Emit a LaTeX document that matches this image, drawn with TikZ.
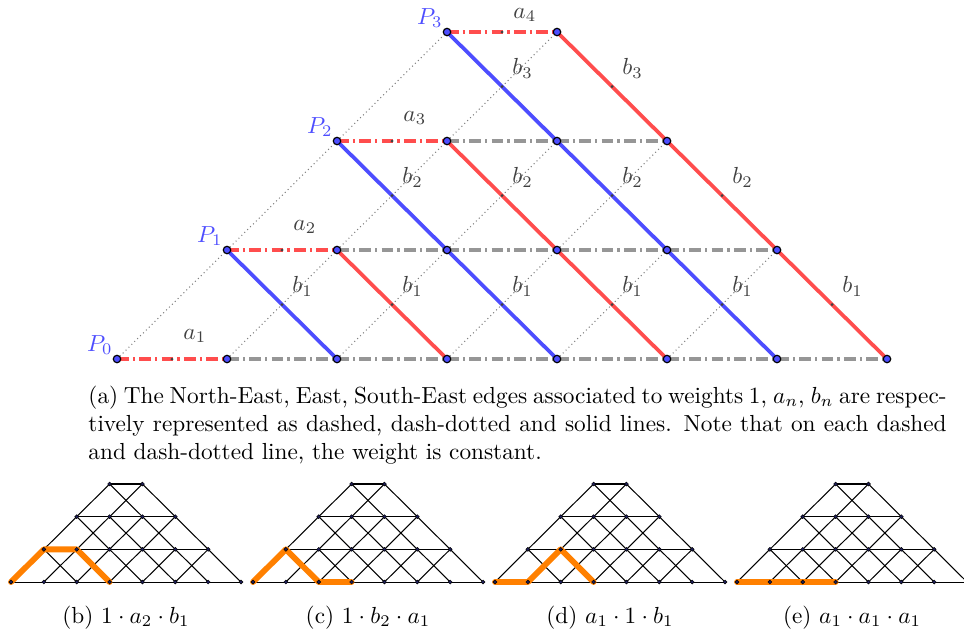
\documentclass[tikz,border=0pt]{standalone}
\usetikzlibrary{calc}
\definecolor{myred}{RGB}{255,77,77}
\definecolor{myblue}{RGB}{77,77,255}
\definecolor{mygrey}{RGB}{150,150,150}
\definecolor{labgrey}{RGB}{64,64,64}
\definecolor{myorange}{RGB}{255,128,0}
\definecolor{dotnavy}{RGB}{30,30,90}
\begin{document}
\begin{tikzpicture}[x=0.43pt,y=-0.43pt,
  nedot/.style={draw=gray, line width=0.45pt, dash pattern=on 0.45pt off 1.3pt},
  edash/.style={line width=1.4pt, dash pattern=on 5pt off 1.8pt on 1pt off 1.8pt},
  sesolid/.style={line width=1.6pt},
  bignode/.style={circle, draw=black, fill=myblue, line width=0.5pt, inner sep=0pt, minimum size=3.2pt},
  middot/.style={circle, fill=labgrey, inner sep=0pt, minimum size=1.3pt},
  wlabel/.style={anchor=base west, inner sep=0pt, text=labgrey},
  plabel/.style={anchor=south east, inner sep=0pt, text=myblue},
  thinedge/.style={draw=black, line width=0.45pt},
  orangepath/.style={draw=myorange, line width=2.5pt, line cap=round, line join=round},
  smallnode/.style={circle, draw=black, fill=dotnavy, line width=0.2pt, inner sep=0pt, minimum size=1.7pt},
  capnode/.style={anchor=base, inner sep=0pt}
]
\useasboundingbox (0,0) rectangle (964,635);

% ---------- top diagram coordinates ----------
\foreach \k in {0,...,3}{
  \pgfmathtruncatemacro\hi{7-\k}
  \foreach \i in {\k,...,\hi}{
    \coordinate (t-\i-\k) at ({117+110*\i},{359-109*\k});
  }
}

% dotted NE edges
\foreach \k in {0,1,2}{
  \pgfmathtruncatemacro\kk{\k+1}
  \pgfmathtruncatemacro\hi{5-\k}
  \foreach \i in {\k,...,\hi}{
    \pgfmathtruncatemacro\j{\i+1}
    \draw[nedot] (t-\i-\k) -- (t-\j-\kk);
  }
}

% dash-dotted E edges
\foreach \k in {0,...,3}{
  \pgfmathtruncatemacro\hi{6-\k}
  \foreach \i in {\k,...,\hi}{
    \pgfmathtruncatemacro\j{\i+1}
    \ifnum\i=\k
      \draw[edash, draw=myred] (t-\i-\k) -- (t-\j-\k) coordinate[pos=0.5] (ma-\k);
    \else
      \draw[edash, draw=mygrey] (t-\i-\k) -- (t-\j-\k);
    \fi
  }
}
\foreach \k/\dy in {0/-20,1/-20,2/-20,3/-14}{
  \pgfmathtruncatemacro\n{\k+1}
  \node[middot] (da-\k) at (ma-\k) {};
  \node[wlabel] (la-\k) at ($(ma-\k)+(11,\dy)$) {$a_{\n}$};
}

% solid SE edges
\foreach \k in {1,2,3}{
  \pgfmathtruncatemacro\km{\k-1}
  \pgfmathtruncatemacro\hi{7-\k}
  \foreach \i in {\k,...,\hi}{
    \pgfmathtruncatemacro\j{\i+1}
    \pgfmathtruncatemacro\pp{mod(\i+\k,2)}
    \ifnum\pp=0 \def\ecol{myblue}\else\def\ecol{myred}\fi
    \draw[sesolid, draw=\ecol] (t-\i-\k) -- (t-\j-\km) coordinate[pos=0.5] (mb-\i-\k);
    \node[middot] (db-\i-\k) at (mb-\i-\k) {};
    \node[wlabel] (lb-\i-\k) at ($(mb-\i-\k)+(10,-12)$) {$b_{\k}$};
  }
}

% top nodes
\foreach \k in {0,...,3}{
  \pgfmathtruncatemacro\hi{7-\k}
  \foreach \i in {\k,...,\hi}{
    \node[bignode] (n-\i-\k) at (t-\i-\k) {};
  }
  \node[plabel] (p-\k) at ($(t-\k-\k)+(-4,-4)$) {$P_{\k}$};
}

% caption (a)
\node[anchor=north west, inner sep=0pt, text width=369pt, align=justify] (capa) at (88,385.5)
{(a) The North-East, East, South-East edges associated to weights 1, $a_n$, $b_n$ are respec-\linebreak tively represented as dashed, dash-dotted and solid lines. Note that on each dashed\linebreak and dash-dotted line, the weight is constant.};

% ---------- small diagrams ----------
\foreach \d/\xo in {b/11,c/253,d/495,e/737}{
  \foreach \k in {0,...,3}{
    \pgfmathtruncatemacro\hi{7-\k}
    \foreach \i in {\k,...,\hi}{
      \coordinate (s\d-\i-\k) at ({\xo+32.86*\i},{582-32.67*\k});
    }
  }
  \foreach \k in {0,...,3}{
    \pgfmathtruncatemacro\hi{6-\k}
    \foreach \i in {\k,...,\hi}{
      \pgfmathtruncatemacro\j{\i+1}
      \draw[thinedge] (s\d-\i-\k) -- (s\d-\j-\k);
    }
  }
  \foreach \k in {0,1,2}{
    \pgfmathtruncatemacro\kk{\k+1}
    \pgfmathtruncatemacro\hi{5-\k}
    \foreach \i in {\k,...,\hi}{
      \pgfmathtruncatemacro\j{\i+1}
      \draw[thinedge] (s\d-\i-\k) -- (s\d-\j-\kk);
    }
  }
  \foreach \k in {1,2,3}{
    \pgfmathtruncatemacro\km{\k-1}
    \pgfmathtruncatemacro\hi{7-\k}
    \foreach \i in {\k,...,\hi}{
      \pgfmathtruncatemacro\j{\i+1}
      \draw[thinedge] (s\d-\i-\k) -- (s\d-\j-\km);
    }
  }
}

\draw[orangepath] (sb-0-0) -- (sb-1-1) -- (sb-2-1) -- (sb-3-0);
\draw[orangepath] (sc-0-0) -- (sc-1-1) -- (sc-2-0) -- (sc-3-0);
\draw[orangepath] (sd-0-0) -- (sd-1-0) -- (sd-2-1) -- (sd-3-0);
\draw[orangepath] (se-0-0) -- (se-1-0) -- (se-2-0) -- (se-3-0);

\foreach \d in {b,c,d,e}{
  \foreach \k in {0,...,3}{
    \pgfmathtruncatemacro\hi{7-\k}
    \foreach \i in {\k,...,\hi}{
      \node[smallnode] (m\d-\i-\k) at (s\d-\i-\k) {};
    }
  }
}

\node[capnode] (capb) at (126,623) {(b) $1\cdot a_2\cdot b_1$};
\node[capnode] (capc) at (368,623) {(c) $1\cdot b_2\cdot a_1$};
\node[capnode] (capd) at (610,623) {(d) $a_1\cdot 1\cdot b_1$};
\node[capnode] (cape) at (852,623) {(e) $a_1\cdot a_1\cdot a_1$};
\end{tikzpicture}
\end{document}
